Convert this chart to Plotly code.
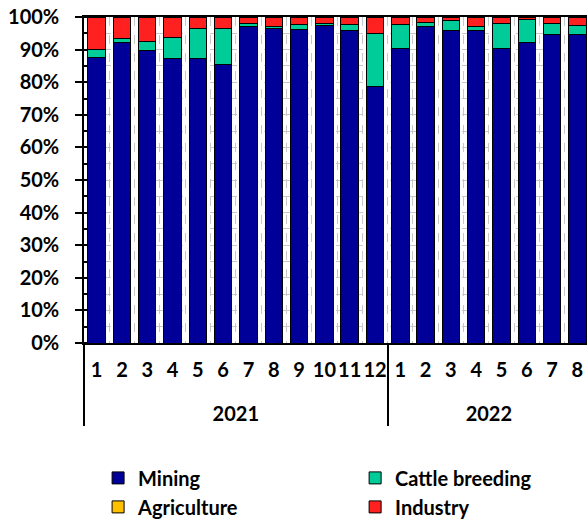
import plotly.graph_objects as go

# Monthly share of each sector (%), Jan 2021 – Aug 2022
years = ["&nbsp;<br>2021"] * 12 + ["&nbsp;<br>2022"] * 8
months = [str(m) for m in range(1, 13)] + [str(m) for m in range(1, 9)]

mining = [87.5, 92.1, 89.7, 87.2, 87.3, 85.5, 97.2, 96.4, 96.2, 97.3,
          96.0, 78.6, 90.2, 97.2, 96.0, 95.9, 90.4, 92.1, 94.5, 94.5]
cattle = [2.4, 1.4, 2.8, 6.5, 9.2, 11.1, 0.7, 0.8, 1.6, 0.8,
          1.8, 16.2, 7.6, 1.0, 2.8, 1.3, 7.6, 7.0, 3.5, 3.0]
agriculture = [0.0] * 20
industry = [10.1, 6.5, 7.5, 6.3, 3.5, 3.4, 2.1, 2.8, 2.2, 1.9,
            2.2, 5.2, 2.2, 1.8, 1.2, 2.8, 2.0, 0.9, 2.0, 2.5]

y_ticks = list(range(0, 101, 10))
y_labels = [f"{v}%" for v in y_ticks]

FONT = "Lato"
BOLD = dict(family=FONT, size=20, color="#000000", weight="bold")
# (name, values, colour, legend column)
series = [
    ("Mining", mining, "#000099", "legend"),
    ("Cattle breeding", cattle, "#00CC99", "legend2"),
    ("Agriculture", agriculture, "#FFC000", "legend"),
    ("Industry", industry, "#FF2020", "legend2"),
]

fig = go.Figure()
for name, vals, color, leg in series:
    fig.add_trace(go.Bar(
        x=[years, months], y=vals, name=name, legend=leg,
        marker=dict(color=color, line=dict(color="#000000", width=1)),
    ))

x_range = [-0.5, 19.38]
legend_style = dict(orientation="v", xanchor="left", y=-0.354, yanchor="top",
                    font=BOLD, traceorder="normal", itemclick=False,
                    bgcolor="rgba(0,0,0,0)")

fig.update_layout(
    width=587, height=523,
    margin=dict(l=84, r=0, t=17, b=180, autoexpand=False),
    barmode="stack", bargap=0.31,
    paper_bgcolor="white", plot_bgcolor="white",
    font=BOLD,
    showlegend=True,
    legend=dict(x=0.028, **legend_style),
    legend2=dict(x=0.539, **legend_style),
    xaxis=dict(
        type="multicategory", range=x_range, tickangle=0,
        showline=True, linecolor="#000000", linewidth=1.5, mirror=True,
        ticks="", showgrid=True, gridcolor="#c8c8c8", griddash="dash", gridwidth=1,
        showdividers=True, dividercolor="#000000", dividerwidth=1.5,
        tickfont=BOLD, ticklabelstandoff=8,
    ),
    xaxis2=dict(
        overlaying="x", anchor="y", side="bottom", range=x_range,
        tickmode="linear", tick0=0, dtick=1, ticks="inside", ticklen=4,
        tickcolor="#000000", showticklabels=False, showgrid=False,
        showline=False, zeroline=False,
    ),
    yaxis=dict(
        range=[0, 100], tickvals=y_ticks, ticktext=y_labels,
        showline=True, linecolor="#000000", linewidth=1.5,
        ticks="outside", ticklen=7, tickwidth=1.5, tickcolor="#000000",
        showgrid=True, gridcolor="#c8c8c8", griddash="dash", gridwidth=1,
        minor=dict(dtick=5, ticks="inside", ticklen=4, tickcolor="#000000",
                   showgrid=True, gridcolor="#c8c8c8", griddash="dash"),
        zeroline=False, tickfont=BOLD, ticklabelstandoff=12,
    ),
)

fig.write_html("out.html")
